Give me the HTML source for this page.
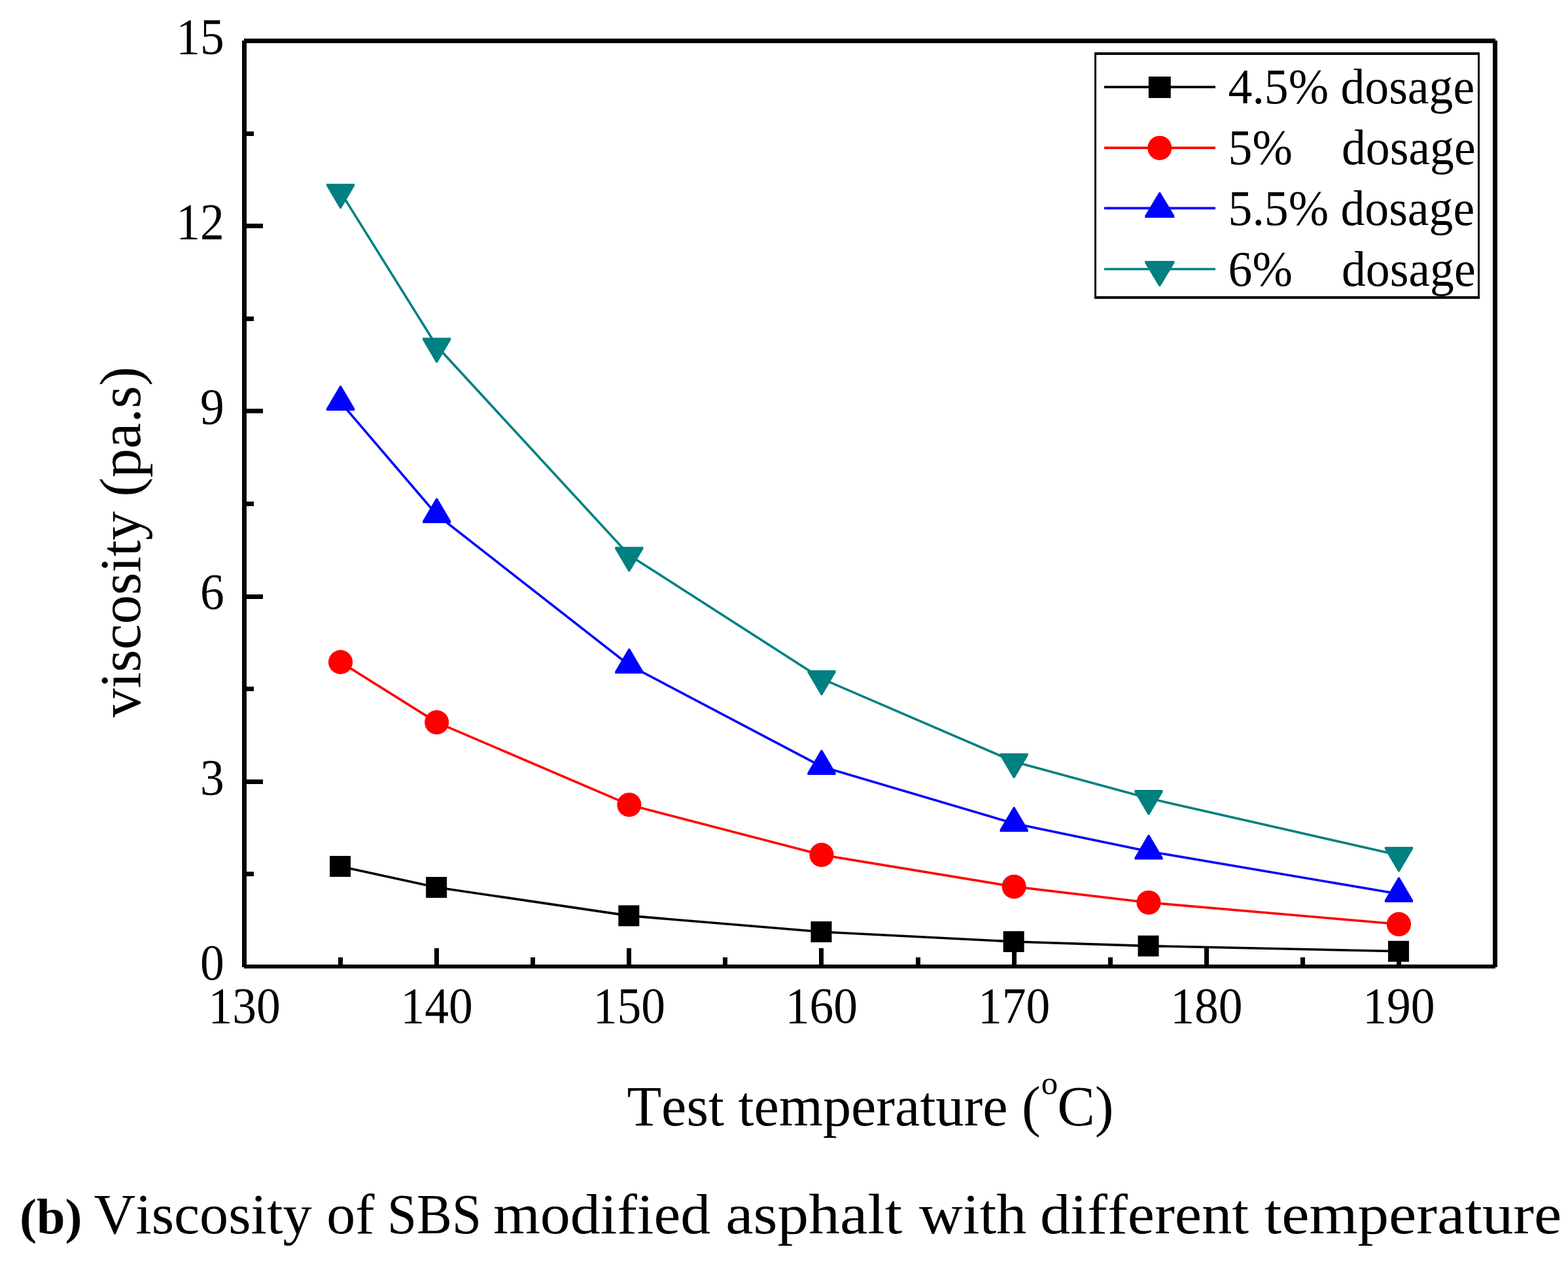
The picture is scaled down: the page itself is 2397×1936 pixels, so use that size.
<!DOCTYPE html>
<html lang="en"><head><meta charset="utf-8"><title>Viscosity of SBS modified asphalt with different temperature</title>
<style>html,body{margin:0;padding:0;background:#fff}body{width:2397px;height:1936px}svg{display:block}text{font-family:"Liberation Serif",serif;fill:#000;white-space:pre;font-kerning:none;font-variant-ligatures:none}</style></head><body>
<svg width="2397" height="1936" viewBox="0 0 2397 1936">
<rect x="0" y="0" width="2397" height="1936" fill="#ffffff"/>
<g id="s-black">
<polyline points="520.58,1324.9 667.65,1357 961.81,1400.4 1255.96,1425 1550.12,1440 1756.02,1446.6 2138.42,1454.8" fill="none" stroke="#000000" stroke-width="3.6" stroke-linejoin="round"/>
<rect x="504.08" y="1308.9" width="32" height="32" fill="#000000"/>
<rect x="651.15" y="1341" width="32" height="32" fill="#000000"/>
<rect x="945.31" y="1384.4" width="32" height="32" fill="#000000"/>
<rect x="1239.46" y="1409" width="32" height="32" fill="#000000"/>
<rect x="1533.62" y="1424" width="32" height="32" fill="#000000"/>
<rect x="1739.52" y="1430.6" width="32" height="32" fill="#000000"/>
<rect x="2121.92" y="1438.8" width="32" height="32" fill="#000000"/>
</g>
<g id="s-red">
<polyline points="520.58,1012.5 667.65,1104.6 961.81,1230.7 1255.96,1307.3 1550.12,1355.9 1756.02,1380.2 2138.42,1413.3" fill="none" stroke="#ff0000" stroke-width="3.6" stroke-linejoin="round"/>
<ellipse cx="520.58" cy="1012.5" rx="18.55" ry="18.5" fill="#ff0000"/>
<ellipse cx="667.65" cy="1104.6" rx="18.55" ry="18.5" fill="#ff0000"/>
<ellipse cx="961.81" cy="1230.7" rx="18.55" ry="18.5" fill="#ff0000"/>
<ellipse cx="1255.96" cy="1307.3" rx="18.55" ry="18.5" fill="#ff0000"/>
<ellipse cx="1550.12" cy="1355.9" rx="18.55" ry="18.5" fill="#ff0000"/>
<ellipse cx="1756.02" cy="1380.2" rx="18.55" ry="18.5" fill="#ff0000"/>
<ellipse cx="2138.42" cy="1413.3" rx="18.55" ry="18.5" fill="#ff0000"/>
</g>
<g id="s-blue">
<polyline points="520.58,615.2 667.65,787.2 961.81,1017.2 1255.96,1172.2 1550.12,1259.3 1756.02,1301.9 2138.42,1367" fill="none" stroke="#0000ff" stroke-width="3.6" stroke-linejoin="round"/>
<polygon points="499.03,627.9 542.13,627.9 542.13,624.7 521.58,589.8 519.58,589.8 499.03,624.7" fill="#0000ff"/>
<polygon points="646.1,799.9 689.2,799.9 689.2,796.7 668.65,761.8 666.65,761.8 646.1,796.7" fill="#0000ff"/>
<polygon points="940.26,1029.9 983.36,1029.9 983.36,1026.7 962.81,991.8 960.81,991.8 940.26,1026.7" fill="#0000ff"/>
<polygon points="1234.41,1184.9 1277.51,1184.9 1277.51,1181.7 1256.96,1146.8 1254.96,1146.8 1234.41,1181.7" fill="#0000ff"/>
<polygon points="1528.57,1272 1571.67,1272 1571.67,1268.8 1551.12,1233.9 1549.12,1233.9 1528.57,1268.8" fill="#0000ff"/>
<polygon points="1734.47,1314.6 1777.57,1314.6 1777.57,1311.4 1757.02,1276.5 1755.02,1276.5 1734.47,1311.4" fill="#0000ff"/>
<polygon points="2116.87,1379.7 2159.97,1379.7 2159.97,1376.5 2139.42,1341.6 2137.42,1341.6 2116.87,1376.5" fill="#0000ff"/>
</g>
<g id="s-teal">
<polyline points="520.58,293.6 667.65,529.3 961.81,848.9 1255.96,1037.8 1550.12,1164.7 1756.02,1220.8 2138.42,1307.8" fill="none" stroke="#008080" stroke-width="3.6" stroke-linejoin="round"/>
<polygon points="499.03,280.9 542.13,280.9 542.13,284.1 521.58,319 519.58,319 499.03,284.1" fill="#008080"/>
<polygon points="646.1,516.6 689.2,516.6 689.2,519.8 668.65,554.7 666.65,554.7 646.1,519.8" fill="#008080"/>
<polygon points="940.26,836.2 983.36,836.2 983.36,839.4 962.81,874.3 960.81,874.3 940.26,839.4" fill="#008080"/>
<polygon points="1234.41,1025.1 1277.51,1025.1 1277.51,1028.3 1256.96,1063.2 1254.96,1063.2 1234.41,1028.3" fill="#008080"/>
<polygon points="1528.57,1152 1571.67,1152 1571.67,1155.2 1551.12,1190.1 1549.12,1190.1 1528.57,1155.2" fill="#008080"/>
<polygon points="1734.47,1208.1 1777.57,1208.1 1777.57,1211.3 1757.02,1246.2 1755.02,1246.2 1734.47,1211.3" fill="#008080"/>
<polygon points="2116.87,1295.1 2159.97,1295.1 2159.97,1298.3 2139.42,1333.2 2137.42,1333.2 2116.87,1298.3" fill="#008080"/>
</g>
<g stroke="#000" stroke-width="7" fill="none" shape-rendering="crispEdges">
<line x1="373.5" y1="62" x2="373.5" y2="1479"/>
<line x1="2285.5" y1="62" x2="2285.5" y2="1479"/>
<line x1="373" y1="62.5" x2="2286" y2="62.5"/>
<line x1="373" y1="1478" x2="2286" y2="1478" stroke-width="6"/>
<line x1="373.5" y1="1336.5" x2="388" y2="1336.5"/>
<line x1="373.5" y1="1195.5" x2="402" y2="1195.5"/>
<line x1="373.5" y1="1053.5" x2="388" y2="1053.5"/>
<line x1="373.5" y1="912.5" x2="402" y2="912.5"/>
<line x1="373.5" y1="770.5" x2="388" y2="770.5"/>
<line x1="373.5" y1="628.5" x2="402" y2="628.5"/>
<line x1="373.5" y1="487.5" x2="388" y2="487.5"/>
<line x1="373.5" y1="345.5" x2="402" y2="345.5"/>
<line x1="373.5" y1="204.5" x2="388" y2="204.5"/>
<line x1="520.5" y1="1478.5" x2="520.5" y2="1464"/>
<line x1="667.5" y1="1478.5" x2="667.5" y2="1450"/>
<line x1="814.5" y1="1478.5" x2="814.5" y2="1464"/>
<line x1="961.5" y1="1478.5" x2="961.5" y2="1450"/>
<line x1="1108.5" y1="1478.5" x2="1108.5" y2="1464"/>
<line x1="1255.5" y1="1478.5" x2="1255.5" y2="1450"/>
<line x1="1403.5" y1="1478.5" x2="1403.5" y2="1464"/>
<line x1="1550.5" y1="1478.5" x2="1550.5" y2="1450"/>
<line x1="1697.5" y1="1478.5" x2="1697.5" y2="1464"/>
<line x1="1844.5" y1="1478.5" x2="1844.5" y2="1450"/>
<line x1="1991.5" y1="1478.5" x2="1991.5" y2="1464"/>
<line x1="2138.5" y1="1478.5" x2="2138.5" y2="1450"/>
</g>
<g id="ticklabels">
<text transform="translate(342.8 1497.7) scale(1 1.05)" font-size="73.5" text-anchor="end">0</text>
<text transform="translate(342.8 1214.5) scale(1 1.05)" font-size="73.5" text-anchor="end">3</text>
<text transform="translate(342.8 931.3) scale(1 1.05)" font-size="73.5" text-anchor="end">6</text>
<text transform="translate(342.8 648.1) scale(1 1.05)" font-size="73.5" text-anchor="end">9</text>
<text transform="translate(342.8 364.9) scale(1 1.05)" font-size="73.5" text-anchor="end">12</text>
<text transform="translate(342.8 81.7) scale(1 1.05)" font-size="73.5" text-anchor="end">15</text>
<text transform="translate(373.5 1564) scale(1 1.05)" font-size="73.5" text-anchor="middle">130</text>
<text transform="translate(667.65 1564) scale(1 1.05)" font-size="73.5" text-anchor="middle">140</text>
<text transform="translate(961.81 1564) scale(1 1.05)" font-size="73.5" text-anchor="middle">150</text>
<text transform="translate(1255.96 1564) scale(1 1.05)" font-size="73.5" text-anchor="middle">160</text>
<text transform="translate(1550.12 1564) scale(1 1.05)" font-size="73.5" text-anchor="middle">170</text>
<text transform="translate(1844.27 1564) scale(1 1.05)" font-size="73.5" text-anchor="middle">180</text>
<text transform="translate(2138.42 1564) scale(1 1.05)" font-size="73.5" text-anchor="middle">190</text>
</g>
<text transform="translate(958.4 1721.2) scale(1 1.01)" font-size="86.3">Test temperature (<tspan font-size="50.8" dx="0.8" dy="-47.6">o</tspan><tspan dx="-0.8" dy="47.6">C)</tspan></text>
<text transform="translate(213.5 1096.9) rotate(-90)" font-size="88.6">viscosity (pa.s)</text>
<g id="legend">
<rect x="1673" y="80" width="589" height="377" fill="#000"/>
<rect x="1676" y="84" width="583" height="369" fill="#fff"/>
<line x1="1688" y1="133.1" x2="1858" y2="133.1" stroke="#000000" stroke-width="3.6"/>
<rect x="1755.85" y="117.1" width="33.9" height="32.8" fill="#000000"/>
<text transform="translate(1877.6 158) scale(1 1.03)" font-size="73.7" text-anchor="start">4.5% dosage</text>
<line x1="1688" y1="226.15" x2="1858" y2="226.15" stroke="#ff0000" stroke-width="3.6"/>
<ellipse cx="1772.8" cy="226.3" rx="18.45" ry="18.65" fill="#ff0000"/>
<text transform="translate(1877.6 251.2) scale(1 1.03)" font-size="73.7" text-anchor="start">5%    <tspan dx="1.5">dosage</tspan></text>
<line x1="1688" y1="318.4" x2="1858" y2="318.4" stroke="#0000ff" stroke-width="3.6"/>
<polygon points="1750.3,333.03 1795.3,333.03 1795.3,329.83 1773.8,293.93 1771.8,293.93 1750.3,329.83" fill="#0000ff"/>
<text transform="translate(1877.6 343.6) scale(1 1.03)" font-size="73.7" text-anchor="start">5.5% dosage</text>
<line x1="1688" y1="411.5" x2="1858" y2="411.5" stroke="#008080" stroke-width="3.6"/>
<polygon points="1750.3,398.97 1795.3,398.97 1795.3,402.17 1773.8,438.07 1771.8,438.07 1750.3,402.17" fill="#008080"/>
<text transform="translate(1877.6 436.8) scale(1 1.03)" font-size="73.7" text-anchor="start">6%    <tspan dx="1.5">dosage</tspan></text>
</g>
<g id="caption">
<text x="29.94" y="1886.4" font-size="77" textLength="95.62" lengthAdjust="spacingAndGlyphs" font-weight="bold">(b)</text>
<text x="143.5" y="1886.4" font-size="86" textLength="333.03" lengthAdjust="spacingAndGlyphs">Viscosity</text>
<text x="499.22" y="1886.4" font-size="86" textLength="73.21" lengthAdjust="spacingAndGlyphs">of</text>
<text x="592.05" y="1886.4" font-size="86" textLength="143.84" lengthAdjust="spacingAndGlyphs">SBS</text>
<text x="754.18" y="1886.4" font-size="86" textLength="332.03" lengthAdjust="spacingAndGlyphs">modified</text>
<text x="1109.27" y="1886.4" font-size="86" textLength="269.85" lengthAdjust="spacingAndGlyphs">asphalt</text>
<text x="1405" y="1886.4" font-size="86" textLength="164.33" lengthAdjust="spacingAndGlyphs">with</text>
<text x="1589.97" y="1886.4" font-size="86" textLength="319.04" lengthAdjust="spacingAndGlyphs">different</text>
<text x="1932.79" y="1886.4" font-size="86" textLength="454.56" lengthAdjust="spacingAndGlyphs">temperature</text>
</g>
</svg></body></html>
